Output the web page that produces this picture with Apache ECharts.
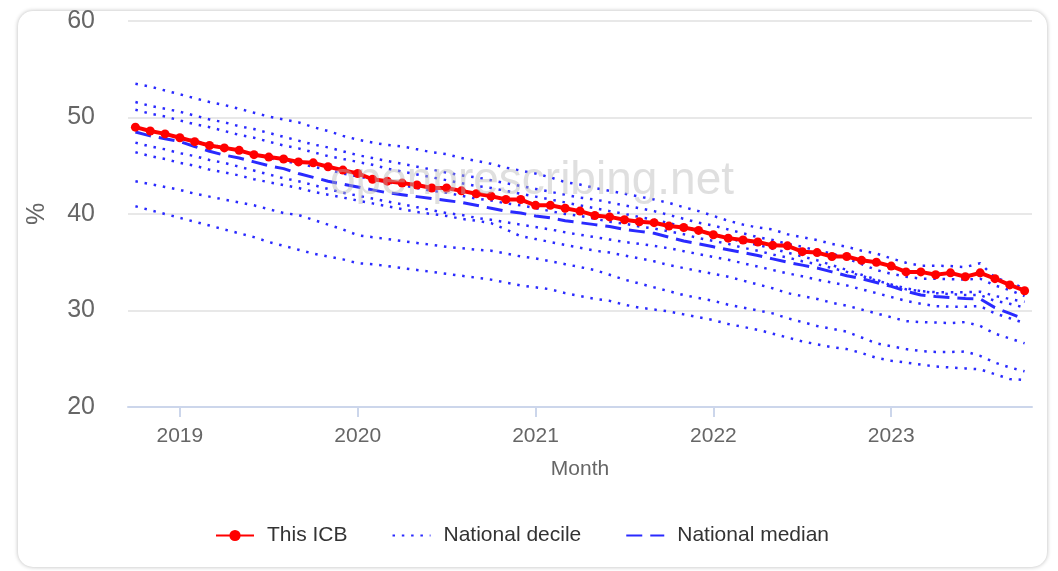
<!DOCTYPE html>
<html>
<head>
<meta charset="utf-8">
<script src="https://cdn.jsdelivr.net/npm/echarts@6/dist/echarts.min.js"></script>
<style>
  html, body { margin: 0; padding: 0; background: #ffffff; }
  #card { position: absolute; left: 18px; top: 11px; width: 1029px; height: 556px;
          border-radius: 15px; background: #fff; box-shadow: 0 0 4px rgba(0,0,0,0.28); }
  #chart { position: absolute; left: 0; top: 0; width: 1058px; height: 571px; }
</style>
</head>
<body>
<div id="card"></div>
<div id="chart"></div>
<script>
const months = [
  '2018-10','2018-11','2018-12',
  '2019-01','2019-02','2019-03','2019-04','2019-05','2019-06','2019-07','2019-08','2019-09','2019-10','2019-11','2019-12',
  '2020-01','2020-02','2020-03','2020-04','2020-05','2020-06','2020-07','2020-08','2020-09','2020-10','2020-11','2020-12',
  '2021-01','2021-02','2021-03','2021-04','2021-05','2021-06','2021-07','2021-08','2021-09','2021-10','2021-11','2021-12',
  '2022-01','2022-02','2022-03','2022-04','2022-05','2022-06','2022-07','2022-08','2022-09','2022-10','2022-11','2022-12',
  '2023-01','2023-02','2023-03','2023-04','2023-05','2023-06','2023-07','2023-08','2023-09','2023-10'
];

const yTicks = [20, 30, 40, 50, 60];

const thisICB = [
  49.0, 48.6, 48.3,
  47.9, 47.5, 47.1, 46.85, 46.6, 46.15, 45.9, 45.7, 45.4, 45.3, 44.9, 44.55,
  44.2, 43.6, 43.4, 43.2, 43.0, 42.7, 42.7, 42.4, 42.1, 41.85, 41.5, 41.5,
  40.9, 40.9, 40.6, 40.3, 39.85, 39.7, 39.4, 39.2, 39.1, 38.75, 38.6, 38.3,
  37.85, 37.5, 37.3, 37.1, 36.75, 36.7, 36.1, 36.0, 35.6, 35.6, 35.2, 35.0,
  34.6, 34.0, 34.0, 33.7, 33.9, 33.5, 33.9, 33.3, 32.65, 32.05
];

const nationalMedian = [
  48.5, 48.1, 47.8,
  47.5, 47.0, 46.5, 46.1, 45.8, 45.4, 45.0, 44.7, 44.2, 43.8, 43.4, 43.1,
  42.8, 42.5, 42.2, 42.0, 41.8, 41.6, 41.4, 41.2, 40.9, 40.6, 40.3, 40.1,
  39.8, 39.6, 39.3, 39.1, 38.9, 38.7, 38.4, 38.2, 38.0, 37.6, 37.2, 36.9,
  36.6, 36.3, 36.0, 35.7, 35.35, 35.0, 34.7, 34.4, 34.0, 33.6, 33.3, 32.9,
  32.5, 32.0, 31.6, 31.45, 31.35, 31.25, 31.2, 30.3, 29.7, 29.1
];

const decile90 = [
  53.5, 53.2, 52.8,
  52.4, 52.0, 51.6, 51.3, 50.9, 50.5, 50.1, 49.8, 49.5, 49.0, 48.6, 48.1,
  47.7, 47.4, 47.15, 47.0, 46.7, 46.4, 46.2, 45.8, 45.5, 45.2, 44.8, 44.5,
  44.2, 43.8, 43.3, 43.05, 42.7, 42.4, 42.1, 41.8, 41.5, 41.15, 40.7, 40.3,
  39.8, 39.3, 38.9, 38.6, 38.4, 37.9, 37.6, 37.3, 36.9, 36.6, 36.2, 35.9,
  35.4, 34.95, 34.65, 34.65, 34.6, 34.5, 34.9, 33.4, 32.9, 32.3
];

const decile80 = [
  51.6, 51.2, 50.9,
  50.6, 50.2, 49.8, 49.5, 49.1, 48.8, 48.4, 48.0, 47.6, 47.2, 46.9, 46.5,
  46.1, 45.8, 45.5, 45.2, 44.9, 44.6, 44.3, 44.0, 43.8, 43.5, 43.2, 42.9,
  42.6, 42.3, 42.0, 41.7, 41.5, 41.2, 40.9, 40.6, 40.3, 39.9, 39.5, 39.1,
  38.8, 38.4, 38.0, 37.6, 37.3, 36.9, 36.6, 36.2, 35.9, 35.4, 34.8, 34.2,
  33.8, 33.5, 33.3, 33.3, 33.25, 33.2, 33.3, 32.6, 32.1, 31.5
];

const decile70 = [
  50.8, 50.4, 50.1,
  49.7, 49.3, 49.0, 48.6, 48.2, 47.9, 47.5, 47.1, 46.8, 46.4, 46.0, 45.7,
  45.4, 45.1, 44.7, 44.4, 44.1, 43.8, 43.5, 43.2, 42.9, 42.7, 42.4, 42.1,
  41.8, 41.5, 41.2, 40.9, 40.6, 40.3, 40.0, 39.7, 39.4, 39.05, 38.7, 38.3,
  37.9, 37.5, 37.1, 36.8, 36.4, 36.0, 35.6, 35.2, 34.7, 34.2, 33.7, 33.2,
  32.6, 32.2, 32.0, 31.9, 31.9, 31.9, 31.95, 31.5, 31.2, 30.9
];

const decile60 = [
  49.0, 48.6, 48.3,
  47.9, 47.6, 47.2, 46.9, 46.5, 46.2, 45.8, 45.5, 45.2, 44.9, 44.6, 44.2,
  43.9, 43.6, 43.3, 43.0, 42.7, 42.4, 42.2, 41.9, 41.6, 41.4, 41.1, 40.9,
  40.6, 40.3, 40.0, 39.8, 39.5, 39.2, 39.0, 38.7, 38.5, 38.2, 37.9, 37.5,
  37.2, 36.9, 36.5, 36.2, 35.8, 35.5, 35.1, 34.8, 34.4, 34.0, 33.6, 33.1,
  32.7, 32.3, 32.0, 31.8, 31.7, 31.6, 31.6, 31.0, 30.7, 30.3
];

const decile40 = [
  47.4, 47.0, 46.7,
  46.3, 46.0, 45.6, 45.3, 44.9, 44.5, 44.1, 43.7, 43.4, 43.0, 42.6, 42.2,
  41.9, 41.6, 41.3, 41.0, 40.7, 40.4, 40.1, 39.9, 39.6, 39.4, 39.15, 38.9,
  38.65, 38.4, 38.1, 37.85, 37.6, 37.35, 37.1, 36.9, 36.7, 36.45, 36.15, 35.85,
  35.55, 35.25, 34.9, 34.55, 34.2, 33.85, 33.55, 33.2, 32.9, 32.6, 32.2, 31.8,
  31.4, 31.0, 30.7, 30.45, 30.4, 30.4, 30.45, 29.7, 29.2, 28.7
];

const decile30 = [
  46.4, 46.0, 45.7,
  45.3, 45.0, 44.6, 44.3, 44.0, 43.6, 43.3, 43.0, 42.7, 42.3, 42.0, 41.7,
  41.4, 41.1, 40.8, 40.5, 40.2, 40.0, 39.8, 39.5, 39.3, 39.05, 38.4, 37.7,
  37.4, 37.1, 36.8, 36.5, 36.2, 36.0, 35.7, 35.4, 35.1, 34.7, 34.4, 34.1,
  33.8, 33.5, 33.1, 32.7, 32.3, 31.8, 31.5, 31.2, 30.8, 30.5, 30.1, 29.7,
  29.3, 28.9, 28.8, 28.75, 28.7, 28.8, 28.4, 27.6, 27.1, 26.6
];

const decile20 = [
  43.4, 43.1, 42.8,
  42.5, 42.1, 41.8, 41.5, 41.2, 40.9, 40.5, 40.1, 39.9, 39.4, 38.9, 38.4,
  37.8, 37.6, 37.4, 37.2, 37.0, 36.8, 36.6, 36.45, 36.3, 36.2, 35.9, 35.6,
  35.4, 35.1, 34.8, 34.5, 34.2, 33.7, 33.2, 32.8, 32.4, 32.0, 31.6, 31.3,
  31.0, 30.6, 30.3, 30.0, 29.7, 29.2, 28.8, 28.4, 28.1, 27.8, 27.2, 26.6,
  26.3, 26.0, 25.8, 25.7, 25.7, 25.75, 25.3, 24.6, 24.1, 23.7
];

const decile10 = [
  40.8, 40.4, 40.0,
  39.6, 39.2, 38.8, 38.4, 38.0, 37.6, 37.1, 36.7, 36.3, 35.9, 35.6, 35.3,
  34.9, 34.8, 34.6, 34.4, 34.2, 34.0, 33.8, 33.6, 33.4, 33.2, 32.9, 32.6,
  32.4, 32.2, 31.8, 31.5, 31.2, 31.0, 30.6, 30.3, 30.1, 29.9, 29.6, 29.3,
  29.0, 28.6, 28.3, 28.0, 27.6, 27.2, 26.8, 26.5, 26.2, 26.0, 25.6, 25.1,
  24.8, 24.6, 24.4, 24.2, 24.1, 24.0, 23.9, 23.4, 22.9, 22.8
];

const decileSets = [decile10, decile20, decile30, decile40, decile60, decile70, decile80, decile90];

const FONT = '"Liberation Sans", Arial, sans-serif';
const BLUE = '#2a2aff';
const NOFILL = 'rgba(0,0,0,0)';

const decileSeries = decileSets.map(function (d) {
  return {
    name: 'National decile',
    type: 'line',
    data: d,
    symbol: 'none',
    showSymbol: false,
    z: 2,
    lineStyle: { color: BLUE, width: 2.5, type: [2.5, 6.8] },
    itemStyle: { color: NOFILL, borderWidth: 0 },
    emphasis: { disabled: true }
  };
});

const chart = echarts.init(document.getElementById('chart'), null, { renderer: 'canvas' });
chart.setOption({
  animation: false,
  backgroundColor: 'transparent',
  textStyle: { fontFamily: FONT },
  grid: { left: 128, right: 26, top: 21, bottom: 164, containLabel: false },
  legend: {
    left: 210,
    top: 520,
    itemWidth: 38,
    itemHeight: 14,
    itemGap: 44,
    textStyle: { fontSize: 21, color: '#333333', fontFamily: FONT, padding: [0, 0, 0, 8] },
    data: [
      { name: 'This ICB' },
      { name: 'National decile', itemStyle: { opacity: 0 } },
      { name: 'National median', itemStyle: { opacity: 0 } }
    ]
  },
  xAxis: {
    type: 'category',
    data: months,
    boundaryGap: true,
    name: 'Month',
    nameLocation: 'middle',
    nameGap: 52,
    nameTextStyle: { fontSize: 21, color: '#666666', fontFamily: FONT },
    axisLine: { lineStyle: { color: '#ccd6eb', width: 2 } },
    axisTick: {
      show: true,
      alignWithLabel: true,
      length: 10,
      lineStyle: { color: '#ccd6eb', width: 2 },
      interval: function (i, v) { return v.slice(5) === '01'; }
    },
    axisLabel: {
      fontSize: 21,
      color: '#666666',
      margin: 19,
      fontFamily: FONT,
      interval: function (i, v) { return v.slice(5) === '01'; },
      formatter: function (v) { return v.slice(0, 4); }
    },
    splitLine: { show: false }
  },
  yAxis: {
    type: 'value',
    min: yTicks[0],
    max: yTicks[yTicks.length - 1],
    interval: 10,
    name: '%',
    nameLocation: 'middle',
    nameGap: 78,
    nameRotate: 90,
    nameTextStyle: { fontSize: 25, color: '#666666', fontFamily: FONT },
    axisLine: { show: false },
    axisTick: { show: false },
    axisLabel: { fontSize: 25, color: '#666666', margin: 33, fontFamily: FONT },
    splitLine: { lineStyle: { color: '#e8e8e8', width: 2 } }
  },
  graphic: [{
    type: 'text',
    left: 330,
    top: 158,
    z: 100,
    silent: true,
    style: {
      text: 'openprescribing.net',
      fontSize: 46,
      fontFamily: FONT,
      fill: 'rgba(185,185,185,0.45)'
    }
  }],
  series: decileSeries.concat([
    {
      name: 'National median',
      type: 'line',
      data: nationalMedian,
      symbol: 'none',
      showSymbol: false,
      z: 3,
      lineStyle: { color: BLUE, width: 3, type: [16, 8] },
      itemStyle: { color: NOFILL, borderWidth: 0 },
      emphasis: { disabled: true }
    },
    {
      name: 'This ICB',
      type: 'line',
      data: thisICB,
      symbol: 'circle',
      symbolSize: 9,
      showSymbol: true,
      showAllSymbol: true,
      z: 4,
      lineStyle: { color: '#ff0000', width: 4 },
      itemStyle: { color: '#ff0000' },
      emphasis: { disabled: true }
    }
  ])
});
</script>
</body>
</html>
